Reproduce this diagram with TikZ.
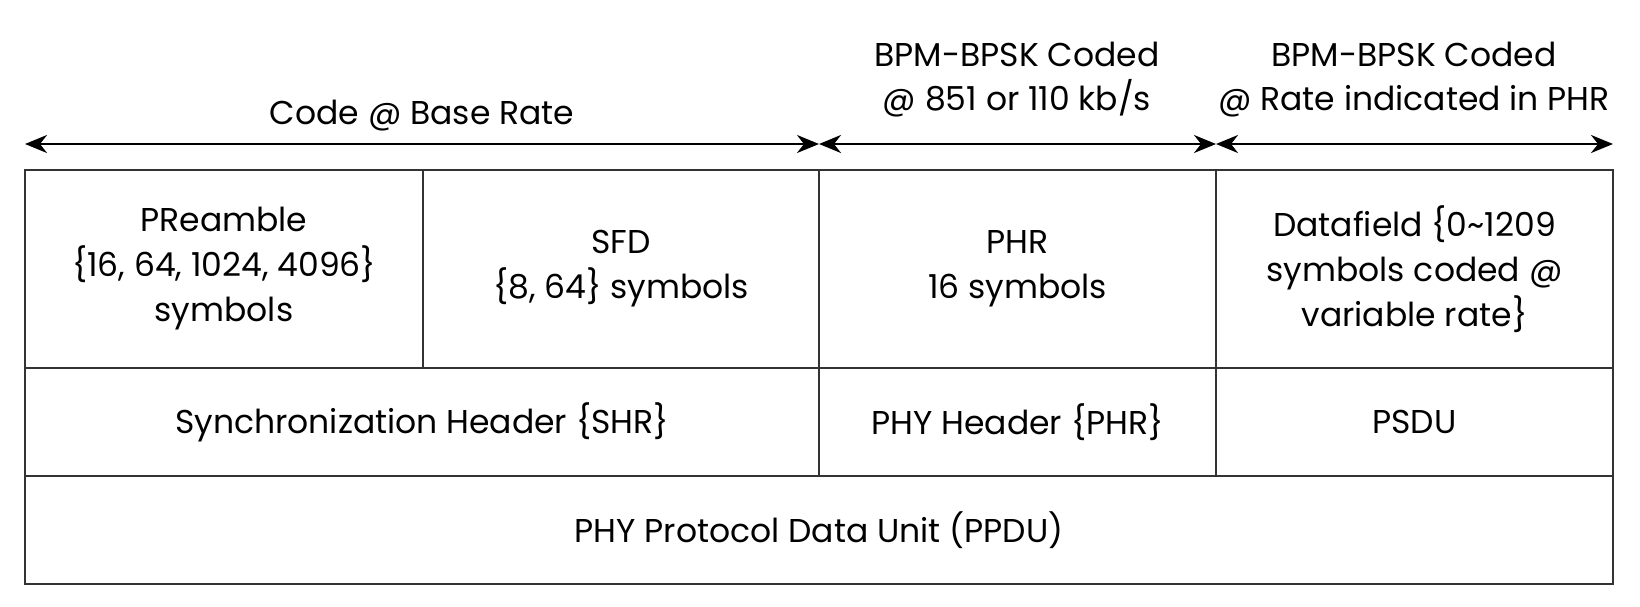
\documentclass[tikz,border=0pt]{standalone}
\usepackage{fontspec}
\setmainfont{Poppins}
\usetikzlibrary{arrows.meta,positioning}

\tikzset{
  cell/.style={draw=black!80,line width=2pt,rectangle,align=center,inner sep=0pt,outer sep=0pt,font=\fontsize{33}{45}\selectfont},
  lbl/.style={align=center,inner sep=0pt,font=\fontsize{33}{44}\selectfont},
  dim/.style={line width=2.5pt,{Stealth[length=22pt,width=18pt,inset=7pt]}-{Stealth[length=22pt,width=18pt,inset=7pt]}}
}

\begin{document}
\begin{tikzpicture}[x=1pt,y=-1pt]
  \useasboundingbox (0,0) rectangle (1640,606);
  % top labels
  \node[lbl] (base) at (422,116) {Code @ Base Rate};
  \node[lbl] (bpm1) at (1017,80) {BPM-BPSK Coded\\@ 851 or 110 kb/s};
  \node[lbl] (bpm2) at (1414,80) {BPM-BPSK Coded\\@ Rate indicated in PHR};
  % arrows
  \coordinate (a0) at (25,144);
  \coordinate (a1) at (819,144);
  \coordinate (a2) at (1216,144);
  \coordinate (a3) at (1613,144);
  \draw[dim] (a0) -- (a1);
  \draw[dim] (a1) -- (a2);
  \draw[dim] (a2) -- (a3);
  % first row
  \node[cell,minimum width=398pt,minimum height=198pt] (pre) at (224,269) {PReamble\\\{16, 64, 1024, 4096\}\\symbols};
  \node[cell,minimum width=396pt,minimum height=198pt] (sfd) at (621,269) {SFD\\\{8, 64\} symbols};
  \node[cell,minimum width=397pt,minimum height=198pt] (phr) at (1017.5,269) {PHR\\16 symbols};
  \node[cell,minimum width=397pt,minimum height=198pt] (data) at (1414.5,269) {Datafield \{0\textasciitilde1209\\symbols coded @\\variable rate\}};
  % second row
  \node[cell,minimum width=794pt,minimum height=108pt] (shr) at (422,422) {Synchronization Header \{SHR\}};
  \node[cell,minimum width=397pt,minimum height=108pt] (phy) at (1017.5,422) {PHY Header \{PHR\}};
  \node[cell,minimum width=397pt,minimum height=108pt] (psdu) at (1414.5,422) {PSDU};
  % third row
  \node[cell,minimum width=1588pt,minimum height=108pt] (ppdu) at (819,530) {PHY Protocol Data Unit (PPDU)};
\end{tikzpicture}
\end{document}
